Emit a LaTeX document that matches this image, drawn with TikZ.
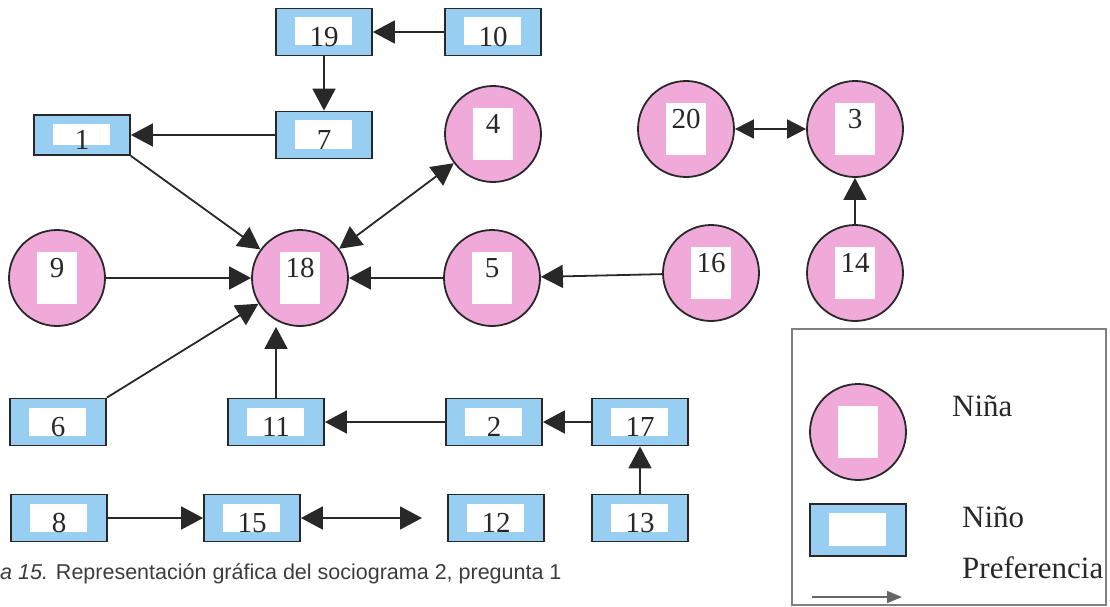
\documentclass[tikz,border=0pt]{standalone}
\usepackage{fontspec}
\setmainfont{Liberation Serif}
\newfontfamily\capfont{Liberation Sans}
\usetikzlibrary{arrows.meta}
\definecolor{ninapink}{RGB}{240,170,218}
\definecolor{ninoblue}{RGB}{152,206,242}
\definecolor{linegray}{RGB}{40,40,40}
\definecolor{capgray}{RGB}{60,60,60}
\tikzset{
	numtxt/.style={inner sep=0pt, text=linegray, font=\fontsize{29}{29}\selectfont},
	ninabase/.style={circle, draw=linegray, line width=1.8pt, fill=ninapink, minimum size=96pt, inner sep=0pt,
		path picture={\fill[white] ([xshift=-20pt,yshift=-26pt]path picture bounding box.center) rectangle ([xshift=20pt,yshift=26pt]path picture bounding box.center);}},
	ninobase/.style={rectangle, draw=linegray, line width=1.8pt, fill=ninoblue, minimum width=96pt, minimum height=47pt, inner sep=0pt,
		path picture={\fill[white] ([xshift=19pt,yshift=-9pt]path picture bounding box.north west) rectangle ([xshift=-20pt,yshift=10pt]path picture bounding box.south east);}},
	nina/.style={ninabase, label={[numtxt,yshift=10pt]center:#1}},
	nino/.style={ninobase, label={[numtxt,yshift=-5pt]center:#1}},
	pref/.style={draw=linegray, line width=1.8pt, -{Triangle[length=22pt,width=23pt]}},
	mutua/.style={pref, {Triangle[length=22pt,width=23pt]}-{Triangle[length=22pt,width=23pt]}},
	legtxt/.style={inner sep=0pt, anchor=base west, text=linegray, font=\fontsize{31}{31}\selectfont}
}
\begin{document}
\begin{tikzpicture}[x=1pt,y=-1pt]
	\useasboundingbox (0,0) rectangle (1110,607);
	%Ninos
	\node[nino=19] (n19) at (324,32) {};
	\node[nino=10] (n10) at (493,32) {};
	\node[nino=7] (n7) at (324,135) {};
	\node[nino=1, minimum height=40pt] (n1) at (82,135) {};
	\node[nino=6] (n6) at (58,422) {};
	\node[nino=11] (n11) at (276,422) {};
	\node[nino=2] (n2) at (494,422) {};
	\node[nino=17] (n17) at (640,422) {};
	\node[nino=8] (n8) at (59,518) {};
	\node[nino=15] (n15) at (252,518) {};
	\node[nino=12] (n12) at (496,518) {};
	\node[nino=13] (n13) at (640,518) {};
	%Ninas
	\node[nina=4] (n4) at (493,134) {};
	\node[nina=9] (n9) at (57,278) {};
	\node[nina=18] (n18) at (300,278) {};
	\node[nina=5] (n5) at (492,278) {};
	\node[nina=16] (n16) at (711,273) {};
	\node[nina=20] (n20) at (686,129) {};
	\node[nina=3] (n3) at (855,129) {};
	\node[nina=14] (n14) at (855,273) {};
	\coordinate (f15) at (422,518);
	%Preferencias
	\draw[pref] (n10) -- (n19);
	\draw[pref] (n19) -- (n7);
	\draw[pref] (n7) -- (n1);
	\draw[pref] (n1.south east) -- (n18);
	\draw[mutua] (n4) -- (n18);
	\draw[pref] (n9) -- (n18);
	\draw[pref] (n5) -- (n18);
	\draw[pref] (n16) -- (n5);
	\draw[pref] (n6.north east) -- (n18);
	\draw[pref] (n11) -- (n11 |- n18.south);
	\draw[pref] (n2) -- (n11);
	\draw[pref] (n17) -- (n2);
	\draw[pref] (n13) -- (n17);
	\draw[pref] (n8) -- (n15);
	\draw[mutua] (n15) -- (f15);
	\draw[pref, {Triangle[length=19pt,width=19pt]}-{Triangle[length=19pt,width=19pt]}] (n20) -- (n3);
	\draw[pref] (n14) -- (n3);
	%Leyenda
	\draw[draw=gray, line width=1.2pt] (792,329) rectangle (1106,605);
	\node[ninabase] (lnina) at (858,432) {};
	\node[ninobase, minimum height=52pt] (lnino) at (858,530) {};
	\node[legtxt] (tnina) at (952,416) {Niña};
	\node[legtxt] (tnino) at (962,527) {Niño};
	\node[legtxt] (tpref) at (962,578) {Preferencia};
	\coordinate (la) at (812,597);
	\coordinate (lb) at (902,597);
	\draw[draw=gray!80!black, line width=1.4pt, -{Triangle[length=15pt,width=12pt]}] (la) -- (lb);
	\node[anchor=base west, inner sep=0pt, text=capgray, font=\capfont\fontsize{21.5}{26}\selectfont] (cap) at (0,579) {\textit{a 15.} Representación gráfica del sociograma 2, pregunta 1};
\end{tikzpicture}
\end{document}
